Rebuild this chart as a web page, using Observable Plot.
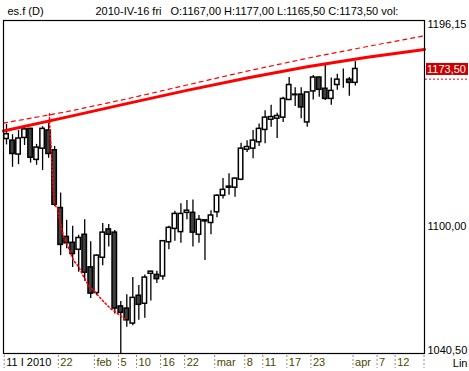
<!DOCTYPE html>
<html><head><meta charset="utf-8">
<script src="https://cdn.jsdelivr.net/npm/d3@7"></script>
<script src="https://cdn.jsdelivr.net/npm/@observablehq/plot@0.6"></script>
<style>
html,body{margin:0;padding:0;background:#fff;}
#chart{position:relative;width:469px;height:371px;overflow:hidden;}
#chart text{white-space:pre;}
</style>
</head><body><div id="chart"></div>
<script>
// Daily candles, trading-day index 0 = 11 Jan 2010 (every weekday counted)
const open  = [1140.75,1140,1133.5,1141.25,1145.5,1131,1136.25,1144.75,1135.5,1108.5,
  1095,1092.25,1089,1096,1080.75,1068.75,1085.25,1098.5,1097,1062.5,
  1061.5,1054.5,1067.5,1063.75,1077.75,1077.25,1076.5,1092.5,1098.75,1097.25,
  1106.25,1106.25,1096,1102.25,1101.5,1106.5,1114.25,1118.5,1118,1121.75,
  1135.75,1136.25,1139.25,1145,1149.75,1150.25,1150.75,1159,1161.5,1161.5,
  1148.5,1163,1169.5,1164.25,1159.5,1166,1168.75,1168.5,1167];
const high  = [1147.5,1142.75,1144.75,1146.75,1145.75,1138.25,1146.5,1148,1137.25,1115.5,
  1102.75,1100,1095.75,1103,1092.75,1086.5,1101.25,1100.75,1098,1064.75,
  1068,1076,1072.25,1077.25,1079,1079,1093.25,1100,1107,1110.5,
  1112,1112.25,1105,1103,1107.25,1114.75,1122.25,1124.5,1122.5,1138.75,
  1140,1144.75,1147.75,1154,1156.5,1152.75,1160.25,1169.5,1164.75,1164.75,
  1162.75,1170.5,1169.75,1176,1169.25,1171,1173.5,1169.5,1177];
const low   = [1138,1127.5,1128.75,1137.75,1129.5,1128.5,1126,1131.75,1109.25,1086.25,
  1089.5,1080.75,1078.5,1074.25,1066.25,1067.5,1081.5,1090.25,1059,1040.5,
  1052.75,1053.5,1056,1057,1065,1073.25,1074.75,1089,1093,1092,
  1103,1090.25,1092,1084,1096,1104,1112.75,1114.5,1113.5,1121.25,
  1134.5,1131.5,1137.25,1138.5,1146.25,1141,1148.5,1158.75,1156,1150.25,
  1146.25,1159,1160.25,1158.75,1156.5,1163.5,1164.5,1160.75,1165.5];
const close = [1143,1133.75,1141,1145.25,1132,1136.75,1145.5,1133.75,1110,1091.25,
  1092,1087,1094.5,1078.25,1068.5,1086.25,1097,1096,1061.5,1059.5,
  1056,1066.5,1063.25,1076,1078.75,1075.25,1093,1099.25,1105.75,1105.75,
  1107.25,1097,1103,1102.75,1105,1114.25,1117,1118,1122.25,1136.25,
  1137,1140,1145.5,1150.75,1151,1151.5,1159.5,1166,1161.25,1155.5,
  1162.5,1169.5,1163.75,1159.5,1163.25,1168.5,1168.75,1167,1173.5];

// axis: last slot of the time axis (16 Apr 2010)
const axisEndIdx = 69;
const tickIdx    = [0,9,15,19,22,26,30,35,40,43,47,51,58,62,65];
const tickLabels = ["11 I 2010","22","feb","5","10","16","22","mar","8","11","17","23","apr","7","12"];
const yMin = 1040.5, yMax = 1196.15;
const yTickVals = [1196.15, 1100, 1040.5];
const refLevel = 1168.5;

// red solid curve
const trendIdx = [-0.5,10,20,30,40,50,60,69.5];
const trendVal = [1144.5,1151,1157.3,1163.5,1169.3,1174.5,1179,1182.6];
// red dashed curve
const upperIdx = [-0.5,10,20,30,40,50,60,69.5];
const upperVal = [1148.2,1153.5,1159.5,1166,1172.5,1178.5,1184,1189];
// red dotted path
const pathIdx = [7.15,7.15,7.48,7.73,7.98,8.48,8.98,9.48,10.3,11.14,11.97,12.8,13.63,14.8,15.96,17.29,18.46,19.79];
const pathVal = [1152.5,1148,1134,1118.1,1110.1,1108.3,1101.3,1095.2,1090,1084,1081.2,1076.5,1072.3,1069,1065.3,1061.5,1059.2,1056.4];

const headerName = "es.f (D)";
const headerDate = "2010-IV-16 fri";

const fmt = v => v.toFixed(2).replace(".", ",");
const candles = open.map((o,i)=>({i, open:o, high:high[i], low:low[i], close:close[i]}));
const last = candles[candles.length-1];
const headerOHLC = `O:${fmt(last.open)} H:${fmt(last.high)} L:${fmt(last.low)} C:${fmt(last.close)} vol:`;
const toPts = (xs, ys) => xs.map((x,k)=>({x, y:ys[k]}));

const olive = "#4a4600";
const tickPos = t => Math.max(-0.45, t - 0.3);

function bottomTicks(index, {x}, values, {width, height, marginBottom}) {
  const g = d3.create("svg:g").attr("stroke","#8a8a8a").attr("stroke-dasharray","2,2").attr("stroke-width",1);
  tickIdx.map(tickPos).concat([axisEndIdx + 0.5]).forEach(t => g.append("line")
    .attr("x1",x(t)).attr("x2",x(t))
    .attr("y1",height - marginBottom + 2).attr("y2",height - 3));
  return g.node();
}
function bottomLabels(index, {x}, values, {height, marginBottom}) {
  const g = d3.create("svg:g").attr("font-size",11).attr("text-anchor","start");
  tickIdx.forEach((t,k) => g.append("text")
    .attr("x", x(tickPos(t)) + 2)
    .attr("y", height - 5)
    .attr("fill", k === 0 ? "#000" : olive)
    .text(tickLabels[k]));
  return g.node();
}
function lastLabel(index, {y}, values, {width, marginRight}) {
  const g = d3.create("svg:g");
  const x0 = width - marginRight;
  const yy = y(last.close);
  g.append("rect").attr("x", x0 + 2).attr("y", yy - 5.5).attr("width", width - x0 - 3).attr("height", 12).attr("fill","#c80000");
  g.append("text").attr("x", x0 + 3).attr("y", yy + 4.5).attr("fill","#fff").attr("font-size",11)
    .attr("text-anchor","start").text(fmt(last.close));
  g.append("line").attr("x1", x0 + 1).attr("x2", width).attr("y1", y(refLevel)).attr("y2", y(refLevel))
    .attr("stroke","#e00000").attr("stroke-dasharray","2,2").attr("stroke-width",1);
  return g.node();
}

const chart = Plot.plot({
  width: 469, height: 371,
  marginLeft: 3, marginRight: 45, marginTop: 20, marginBottom: 18,
  x: {domain: [-0.5, axisEndIdx + 0.5], axis: null},
  y: {domain: [yMin, yMax], axis: null},
  style: {fontFamily: "'Liberation Sans', Arial, sans-serif", fontSize: "11px", background: "#fff", overflow: "visible"},
  marks: [
    Plot.ruleX(candles, {x: "i", y1: "low", y2: "high", stroke: "#000", strokeWidth: 1.3}),
    Plot.rect(candles, {x1: d => d.i - 0.37, x2: d => d.i + 0.37, y1: "open", y2: "close",
      fill: d => d.close >= d.open ? "#fff" : "#404040", stroke: "#000", strokeWidth: 1.5}),
    Plot.line(toPts(upperIdx, upperVal), {x: "x", y: "y", stroke: "#ff0000", strokeWidth: 1.2, strokeDasharray: "4,4"}),
    Plot.line(toPts(trendIdx, trendVal), {x: "x", y: "y", stroke: "#ff0000", strokeWidth: 3}),
    Plot.line(toPts(pathIdx, pathVal), {x: "x", y: "y", stroke: "#ff0000", strokeWidth: 1.6, strokeDasharray: "1.5,2.5"}),
    Plot.frame({stroke: "#000", strokeWidth: 1.2}),
    Plot.text([yTickVals[0]], {y: d => d, text: fmt, frameAnchor: "right", dx: 3, textAnchor: "start", lineAnchor: "top", fill: "#000"}),
    Plot.text(yTickVals.slice(1, -1), {y: d => d, text: fmt, frameAnchor: "right", dx: 3, textAnchor: "start", lineAnchor: "middle", fill: "#000"}),
    Plot.text([yTickVals[2]], {y: d => d, text: fmt, frameAnchor: "right", dx: 3, textAnchor: "start", lineAnchor: "bottom", fill: "#000"}),
    Plot.text(["Lin"], {text: d => d, frameAnchor: "bottom-right", dx: 43, dy: 10, textAnchor: "end", lineAnchor: "middle", fill: "#000"}),
    Plot.text([headerName], {text: d => d, frameAnchor: "top-left", dx: 4, dy: -9, lineAnchor: "middle", textAnchor: "start", fill: "#000"}),
    Plot.text([headerDate], {text: d => d, frameAnchor: "top-left", dx: 92, dy: -9, lineAnchor: "middle", textAnchor: "start", fill: "#000"}),
    Plot.text([headerOHLC], {text: d => d, frameAnchor: "top-left", dx: 167, dy: -9, lineAnchor: "middle", textAnchor: "start", fill: "#000", letterSpacing: 0.3}),
    bottomTicks,
    bottomLabels,
    lastLabel
  ]
});
document.getElementById("chart").appendChild(chart);
</script>
</body></html>
